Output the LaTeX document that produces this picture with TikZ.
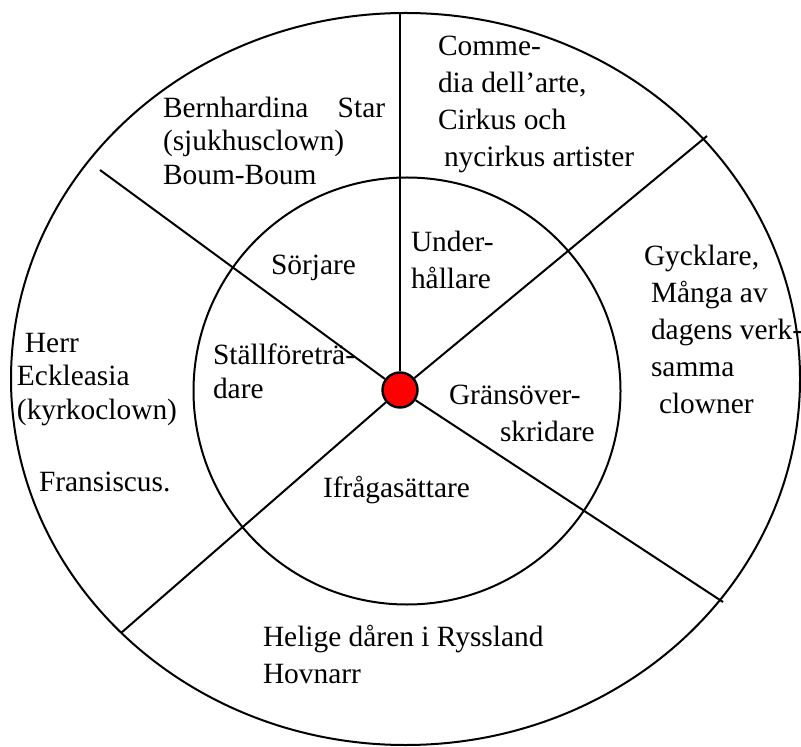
\documentclass[tikz,border=0pt]{standalone}
\usepackage{fontspec}
\setmainfont{Liberation Serif}
\usetikzlibrary{positioning}

\begin{document}
\begin{tikzpicture}[x=0.5pt, y=-0.5pt, line width=1pt,
  lbl/.style={anchor=north west, inner sep=0pt, align=left,
    font=\fontsize{14.7}{18.5}\selectfont},
  tight/.style={font=\fontsize{14.7}{16.7}\selectfont}]
  \useasboundingbox (0,0) rectangle (801,747);
  \draw (405.5,379) ellipse [x radius=394.5, y radius=366];
  \draw (407,391) circle [radius=213.5];
  \node[circle, draw, fill=red, line width=1.2pt, minimum size=17.5pt, inner sep=0pt] (dot) at (400,390) {};

  \coordinate (top) at (400,13);
  \coordinate (ur) at (707,136);
  \coordinate (lr) at (723,602);
  \coordinate (ll) at (121,633);
  \coordinate (ul) at (100,170);
  \foreach \c in {top,ur,lr,ll,ul}
    \draw (\c) -- (dot);

  \node[lbl, tight] (bern) at (162,96) {Bernhardina\quad Star\\(sjukhusclown)\\Boum-Boum};
  \node[lbl] (comm) at (437,35) {Comme-\\dia dell’arte,\\Cirkus och\\\hspace{3pt}nycirkus artister};
  \node[lbl, tight] (herr) at (16,332) {\hspace{4pt}Herr\\Eckleasia\\(kyrkoclown)};
  \node[lbl] (fran) at (38,471) {Fransiscus.};
  \node[lbl] (gyck) at (643,244) {Gycklare,\\\hspace{3.5pt}Många av\\\hspace{3.5pt}dagens verk-\\\hspace{3.5pt}samma\\\hspace{7.5pt}clowner};
  \node[lbl] (hel) at (262,624) {Helige dåren i Ryssland\\Hovnarr};

  \node[lbl] (under) at (410,230) {Under-\\hållare};
  \node[lbl] (sorj) at (270,254) {Sörjare};
  \node[lbl, tight] (stall) at (212,343) {Ställföreträ-\\dare};
  \node[lbl] (grans) at (448,384) {Gränsöver-\\\hspace{25.5pt}skridare};
  \node[lbl] (ifr) at (322,475) {Ifrågasättare};
\end{tikzpicture}
\end{document}
